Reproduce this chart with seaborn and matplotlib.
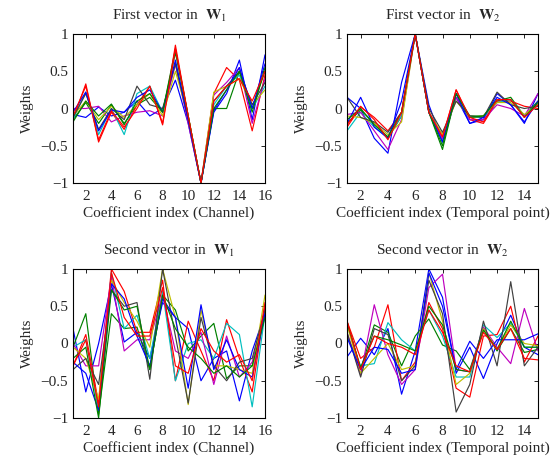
import numpy as np
import pandas as pd
import matplotlib
matplotlib.use("Agg")
import matplotlib.pyplot as plt
import seaborn as sns

# estimated weights, 10 vectors per panel
w1_first = [
    [-0.08, -0.12, 0.02, -0.10, -0.05, 0.10, -0.10, 0.00, 0.38, -0.20, -1, -0.05, 0.20, 0.65, -0.15, 0.72],
    [-0.15, 0.08, -0.20, 0.05, -0.20, 0.05, 0.15, -0.05, 0.80, -0.10, -1, 0.00, 0.00, 0.50, 0.00, 0.50],
    [-0.15, 0.33, -0.45, -0.05, -0.28, 0.05, 0.30, -0.20, 0.85, -0.10, -1, 0.20, 0.55, 0.38, -0.30, 0.45],
    [-0.15, 0.22, -0.35, 0.00, -0.35, 0.20, 0.30, -0.05, 0.60, -0.15, -1, 0.05, 0.30, 0.45, 0.00, 0.30],
    [0.00, 0.00, 0.03, -0.18, -0.10, -0.05, -0.03, -0.10, 0.60, -0.20, -1, 0.18, 0.35, 0.55, -0.20, 0.40],
    [-0.10, 0.10, -0.15, 0.03, -0.12, 0.05, 0.20, -0.10, 0.50, -0.10, -1, 0.22, 0.30, 0.40, 0.05, 0.25],
    [-0.12, 0.20, -0.28, 0.00, -0.15, 0.30, 0.05, 0.00, 0.60, -0.15, -1, 0.10, 0.30, 0.50, 0.05, 0.35],
    [-0.05, 0.22, -0.30, -0.02, -0.05, 0.15, 0.25, -0.05, 0.65, -0.15, -1, -0.03, 0.25, 0.55, 0.00, 0.60],
    [-0.18, 0.10, -0.10, 0.06, -0.22, 0.10, 0.20, -0.05, 0.75, -0.10, -1, 0.00, 0.25, 0.50, -0.05, 0.55],
    [-0.10, 0.30, -0.42, -0.03, -0.25, 0.00, 0.30, -0.22, 0.80, -0.10, -1, 0.10, 0.30, 0.40, 0.10, 0.50],
]
w2_first = [
    [0.15, 0.00, -0.40, -0.60, 0.35, 1, 0.05, -0.45, 0.15, -0.20, -0.15, 0.20, 0.05, -0.20, 0.20],
    [-0.20, -0.02, -0.20, -0.40, -0.10, 1, -0.05, -0.55, 0.20, -0.10, -0.10, 0.10, 0.15, -0.10, 0.10],
    [-0.25, 0.02, -0.12, -0.30, -0.05, 1, -0.05, -0.40, 0.25, -0.15, -0.20, 0.10, 0.10, 0.03, 0.00],
    [-0.30, -0.05, -0.25, -0.38, -0.10, 1, -0.05, -0.45, 0.20, -0.12, -0.12, 0.08, 0.12, -0.10, 0.05],
    [-0.08, -0.05, -0.30, -0.55, -0.15, 1, -0.05, -0.40, 0.15, -0.15, -0.15, 0.05, 0.00, -0.10, 0.20],
    [-0.10, -0.12, -0.20, -0.35, -0.18, 1, -0.05, -0.35, 0.10, -0.12, -0.10, 0.08, 0.08, -0.08, 0.05],
    [0.15, -0.12, -0.18, -0.32, -0.05, 1, 0.00, -0.32, 0.10, -0.10, -0.12, 0.22, 0.05, 0.00, 0.03],
    [-0.20, 0.15, -0.25, -0.40, 0.10, 1, -0.05, -0.45, 0.20, -0.20, -0.12, 0.15, 0.05, -0.18, 0.10],
    [-0.15, 0.00, -0.22, -0.38, -0.05, 1, -0.05, -0.50, 0.20, -0.12, -0.10, 0.12, 0.12, -0.12, 0.08],
    [-0.22, 0.03, -0.15, -0.42, -0.05, 1, -0.05, -0.38, 0.25, -0.12, -0.18, 0.12, 0.12, -0.12, 0.05],
]
w1_second = [
    [0.20, -0.65, 0.00, 0.80, 0.02, 0.15, -0.20, 0.55, 0.35, 0.20, -0.50, -0.20, -0.10, -0.77, -0.10, 0.40],
    [-0.05, 0.40, -0.95, 0.40, 0.20, 0.22, -0.35, 0.65, 0.45, -0.10, 0.10, 0.27, -0.47, -0.30, -0.30, 0.40],
    [-0.30, 0.12, -0.80, 1.00, 0.70, 0.15, 0.15, 0.85, -0.50, 0.30, -0.10, -0.50, 0.32, -0.20, -0.65, 0.50],
    [-0.05, 0.05, -0.90, 0.95, 0.20, 0.38, -0.20, 0.70, -0.50, 0.00, 0.05, -0.20, 0.27, 0.12, -0.85, 0.40],
    [0.00, -0.30, -0.30, 0.90, -0.10, 0.05, 0.05, 0.65, -0.10, -0.20, 0.15, -0.55, 0.10, -0.45, -0.25, 0.45],
    [-0.05, -0.20, -0.75, 0.85, 0.55, 0.30, -0.05, 1.00, 0.35, -0.82, 0.45, -0.30, -0.30, -0.35, -0.40, 0.65],
    [-0.35, -0.20, -0.55, 0.72, 0.50, 0.55, -0.48, 1.00, 0.10, -0.80, 0.35, -0.30, -0.50, -0.25, -0.20, 0.45],
    [-0.25, -0.40, -0.90, 0.80, 0.60, 0.10, -0.30, 0.60, 0.35, -0.60, 0.52, -0.35, 0.05, -0.35, -0.45, 0.40],
    [-0.20, -0.05, -1.00, 0.72, 0.45, 0.50, -0.35, 0.65, 0.20, -0.05, -0.20, -0.40, -0.30, -0.45, -0.30, 0.35],
    [-0.30, 0.05, -0.85, 0.95, 0.35, 0.10, 0.10, 0.75, -0.30, -0.40, 0.20, -0.10, -0.25, -0.15, -0.50, 0.55],
]
w2_second = [
    [-0.18, 0.07, -0.15, 0.20, -0.68, -0.10, 1.00, 0.62, -0.40, -0.05, -0.47, 0.00, 0.38, -0.05, -0.15],
    [0.30, -0.35, 0.25, 0.15, -0.30, 0.10, 0.33, -0.02, -0.10, -0.35, 0.20, -0.10, 0.20, -0.12, -0.08],
    [0.30, -0.20, -0.05, 0.52, -0.50, -0.25, 0.55, 0.20, -0.60, -0.72, 0.10, 0.12, 0.50, -0.25, 0.10],
    [0.10, -0.30, -0.27, 0.28, 0.05, -0.10, 0.45, 0.10, -0.45, -0.45, 0.25, 0.08, 0.27, -0.05, -0.05],
    [0.15, -0.42, 0.52, -0.15, -0.55, -0.35, 0.75, 0.93, -0.35, -0.38, 0.22, -0.05, -0.27, 0.47, -0.10],
    [0.25, -0.40, -0.20, 0.00, -0.35, -0.30, 0.95, 0.30, -0.55, -0.40, 0.20, -0.08, 0.25, 0.00, -0.03],
    [0.15, -0.45, 0.20, 0.12, -0.50, -0.30, 0.85, 0.40, -0.92, -0.55, 0.30, -0.30, 0.83, -0.30, -0.05],
    [0.08, -0.35, -0.05, -0.08, -0.40, -0.35, 0.95, 0.50, -0.35, 0.03, -0.20, 0.05, 0.05, 0.05, 0.13],
    [0.28, -0.32, 0.10, 0.05, -0.02, -0.10, 0.50, 0.25, -0.35, -0.38, 0.18, -0.08, 0.30, -0.05, -0.05],
    [0.30, -0.35, 0.10, 0.00, -0.05, -0.15, 0.45, 0.15, -0.30, -0.38, 0.15, -0.08, 0.20, -0.20, -0.22],
]

titles = [r"First vector in  $\mathbf{W}_1$", r"First vector in  $\mathbf{W}_2$",
          r"Second vector in  $\mathbf{W}_1$", r"Second vector in  $\mathbf{W}_2$"]
xlabels = ["Coefficient index (Channel)", "Coefficient index (Temporal point)"] * 2
# old matlab colour order
colors = [(0, 0, 1), (0, 0.5, 0), (1, 0, 0), (0, 0.75, 0.75), (0.75, 0, 0.75),
          (0.75, 0.75, 0), (0.25, 0.25, 0.25), (0, 0, 1), (0, 0.5, 0), (1, 0, 0)]

sns.set_style("white")
plt.rcParams["font.family"] = ["Liberation Serif", "DejaVu Serif"]
plt.rcParams["mathtext.fontset"] = "stix"
plt.rcParams["axes.unicode_minus"] = True

fig = plt.figure(figsize=(5.56, 4.61), dpi=100)
W, H = 556, 461
boxes = [(73, 34, 265, 183), (347, 34, 538, 183), (73, 269, 265, 418), (347, 269, 538, 418)]

for k, data in enumerate([w1_first, w2_first, w1_second, w2_second]):
    x0, y0, x1, y1 = boxes[k]
    ax = fig.add_axes([x0 / W, 1 - y1 / H, (x1 - x0) / W, (y1 - y0) / H])
    n = len(data[0])
    df = pd.DataFrame([(i + 1, v, j) for j, row in enumerate(data) for i, v in enumerate(row)],
                      columns=["idx", "w", "vec"])
    sns.lineplot(data=df, x="idx", y="w", hue="vec", palette=colors, legend=False,
                 linewidth=0.85, ax=ax, estimator=None)
    ax.set_xlim(1, n)
    ax.set_ylim(-1, 1)
    ax.set_xticks(list(range(2, n + 1, 2)))
    ax.set_yticks([-1, -0.5, 0, 0.5, 1])
    ax.set_yticklabels(["\u22121", "\u22120.5", "0", "0.5", "1"])
    ax.tick_params(direction="in", length=3, labelsize=11, top=True, right=True,
                   color="black", width=0.6)
    ax.tick_params(axis="x", pad=5)
    for s in ax.spines.values():
        s.set_color("black")
        s.set_linewidth(0.8)
    ax.set_xlabel(xlabels[k], fontsize=11, labelpad=2)
    ax.set_ylabel("Weights", fontsize=11, labelpad=5)
    ax.set_title(titles[k], fontsize=11, pad=10)

fig.savefig("out.png", dpi=100)
